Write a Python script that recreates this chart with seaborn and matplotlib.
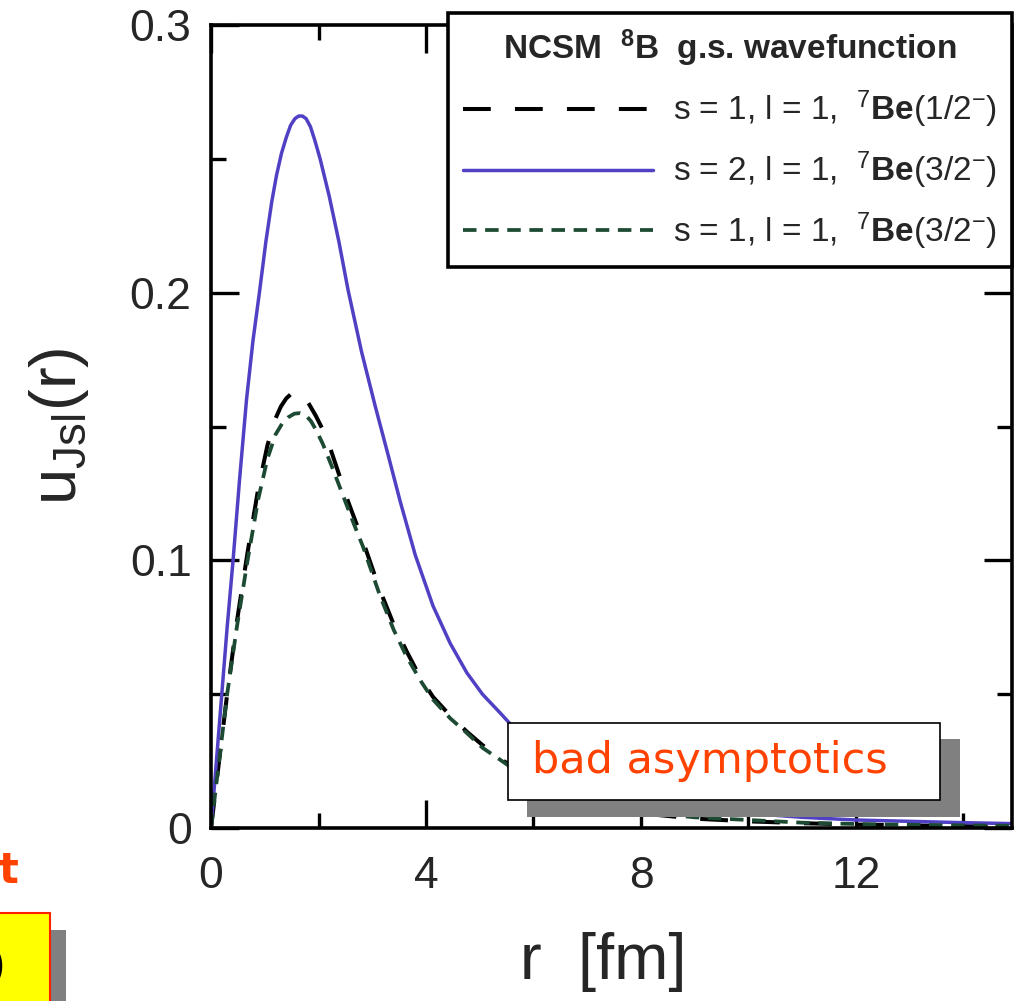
import numpy as np
import pandas as pd
import matplotlib
matplotlib.use("Agg")
import matplotlib.pyplot as plt
import seaborn as sns
from matplotlib.patches import Rectangle
from matplotlib.ticker import MultipleLocator

# Plot settings
sns.set_style("ticks")
plt.rcParams['font.family'] = ['Liberation Sans', 'DejaVu Sans']
plt.rcParams['mathtext.fontset'] = 'custom'
plt.rcParams['mathtext.rm'] = 'Liberation Sans'
plt.rcParams['mathtext.bf'] = 'Liberation Sans:bold'
plt.rcParams['mathtext.it'] = 'Liberation Sans:italic'

# Data: r [fm] and u(r)
r_black = [0, 0.15, 0.3, 0.48, 0.68, 0.88, 1.05, 1.2, 1.3, 1.4, 1.48, 1.55, 1.63,
           1.72, 1.82, 1.95, 2.15, 2.35, 2.55, 2.83, 3.14, 3.4, 3.64, 3.9, 4.13,
           4.45, 4.76, 5.05, 5.38, 5.7, 6.0, 6.5, 7.0, 7.5, 8.0, 9.0, 10.0, 11.0,
           12.0, 13.0, 14.0, 15.0]
u_black = [0, 0.025, 0.05, 0.077, 0.103, 0.127, 0.143, 0.153, 0.1575, 0.1605,
           0.162, 0.163, 0.1628, 0.1615, 0.1585, 0.154, 0.146, 0.134, 0.122, 0.107,
           0.089, 0.076, 0.066, 0.056, 0.049, 0.042, 0.036, 0.031, 0.026, 0.0215,
           0.018, 0.0135, 0.010, 0.0075, 0.0055, 0.0035, 0.0025, 0.0018, 0.0013,
           0.001, 0.0007, 0.0005]

r_blue = [0, 0.1, 0.2, 0.3, 0.41, 0.53, 0.66, 0.78, 0.9, 1.02, 1.13, 1.22, 1.31,
          1.4, 1.48, 1.56, 1.63, 1.7, 1.77, 1.85, 1.93, 2.03, 2.2, 2.38, 2.55, 2.8,
          3.05, 3.3, 3.52, 3.8, 4.13, 4.45, 4.76, 5.05, 5.38, 5.7, 6.0, 6.5, 7.0,
          7.5, 8.0, 9.0, 10.0, 11.0, 12.0, 13.0, 14.0, 15.0]
u_blue = [0, 0.025, 0.05, 0.075, 0.10, 0.13, 0.16, 0.182, 0.20, 0.219, 0.234,
          0.244, 0.252, 0.258, 0.2625, 0.265, 0.266, 0.266, 0.265, 0.262, 0.257,
          0.250, 0.236, 0.219, 0.201, 0.178, 0.158, 0.139, 0.122, 0.102, 0.083,
          0.069, 0.058, 0.050, 0.043, 0.036, 0.031, 0.024, 0.019, 0.015, 0.012,
          0.008, 0.0055, 0.004, 0.003, 0.0025, 0.002, 0.0016]

r_green = [0, 0.15, 0.3, 0.48, 0.68, 0.88, 1.05, 1.2, 1.32, 1.44, 1.55, 1.65, 1.75,
           1.86, 1.96, 2.08, 2.25, 2.46, 2.65, 2.83, 3.14, 3.4, 3.64, 3.9, 4.13,
           4.45, 4.76, 5.05, 5.38, 5.7, 6.0, 6.5, 7.0, 7.5, 8.0, 9.0, 10.0, 11.0,
           12.0, 13.0, 14.0, 15.0]
u_green = [0, 0.025, 0.05, 0.075, 0.10, 0.123, 0.138, 0.147, 0.151, 0.1535, 0.1548,
           0.155, 0.1545, 0.152, 0.1485, 0.1435, 0.135, 0.124, 0.114, 0.105, 0.087,
           0.074, 0.064, 0.055, 0.048, 0.041, 0.0355, 0.030, 0.0255, 0.021, 0.018,
           0.014, 0.010, 0.008, 0.006, 0.004, 0.003, 0.002, 0.0015, 0.0012, 0.001,
           0.0008]

labels = [r's = 1, l = 1,  $^{7}$$\mathbf{Be}$(1/2$^{-}$)',
          r's = 2, l = 1,  $^{7}$$\mathbf{Be}$(3/2$^{-}$)',
          r's = 1, l = 1,  $^{7}$$\mathbf{Be}$(3/2$^{-}$)']
legend_title = r'NCSM  $^{\mathbf{8}}$B  g.s. wavefunction'

x_major = [0, 4, 8, 12]
y_major = [0, 0.1, 0.2, 0.3]
y_ticklabels = ['0', '0.1', '0.2', '0.3']

df_black = pd.DataFrame({'r': r_black, 'u': u_black})
df_blue = pd.DataFrame({'r': r_blue, 'u': u_blue})
df_green = pd.DataFrame({'r': r_green, 'u': u_green})

fig = plt.figure(figsize=(10.18, 10.01), dpi=100)
ax = fig.add_axes([0.2073, 0.1728, 0.7866, 0.8022])

line_kw = dict(estimator=None, sort=False, solid_joinstyle='round',
               dash_joinstyle='round')
sns.lineplot(data=df_black, x='r', y='u', ax=ax, color='black', linewidth=2.9,
             linestyle=(0, (6.9, 6.0)), label=labels[0], **line_kw)
sns.lineplot(data=df_blue, x='r', y='u', ax=ax, color='#5040c4', linewidth=2.5,
             label=labels[1], **line_kw)
sns.lineplot(data=df_green, x='r', y='u', ax=ax, color='#1c4a32', linewidth=2.7,
             linestyle=(0, (3.6, 2.3)), label=labels[2], **line_kw)

ax.set_xlim(0, 14.9)
ax.set_ylim(0, 0.3)
ax.set_xticks(x_major)
ax.set_xticklabels([str(v) for v in x_major])
ax.set_yticks(y_major)
ax.set_yticklabels(y_ticklabels)
ax.xaxis.set_minor_locator(MultipleLocator(2))
ax.yaxis.set_minor_locator(MultipleLocator(0.05))
ax.tick_params(which='both', direction='in', top=True, right=True, width=2.4,
               color='black')
ax.tick_params(which='major', length=20, labelsize=32)
ax.tick_params(which='minor', length=11)
ax.tick_params(axis='x', pad=20)
ax.tick_params(axis='y', pad=14)
for sp in ax.spines.values():
    sp.set_linewidth(2.6)
    sp.set_color('black')

ax.set_xlabel('r  [fm]', fontsize=47)
ax.set_ylabel(r'u$_{\rm Jsl}$(r)', fontsize=47)
ax.xaxis.set_label_coords(0.49, -0.13)
ax.yaxis.set_label_coords(-0.15, 0.5)

handles = ax.get_lines()[:3]
leg = ax.legend(handles, labels, title=legend_title, loc='upper right',
                bbox_to_anchor=(1.0, 1.015), borderaxespad=0, fontsize=24,
                title_fontproperties={'weight': 'bold', 'size': 24},
                handlelength=5.7, handletextpad=0.6, labelspacing=0.58,
                borderpad=0.45, fancybox=False, framealpha=1, edgecolor='black')
leg.get_frame().set_linewidth(2.6)

# "bad asymptotics" callout with drop shadow
ax.add_patch(Rectangle((0.395, 0.0137), 0.54, 0.097, transform=ax.transAxes,
                       facecolor='#808080', edgecolor='none', zorder=6, clip_on=False))
ax.add_patch(Rectangle((0.371, 0.0349), 0.539, 0.0959, transform=ax.transAxes,
                       facecolor='white', edgecolor='black', linewidth=1.2, zorder=7,
                       clip_on=False))
ax.text(0.623, 0.083, 'bad asymptotics', transform=ax.transAxes, ha='center',
        va='center', fontsize=31, color='#ff4200', family='DejaVu Sans', zorder=8)

# pieces of the slide cut off at the lower left
fig.add_artist(Rectangle((0.0491, -0.02), 0.0157, 0.0909, transform=fig.transFigure,
                         facecolor='#808080', edgecolor='none'))
fig.add_artist(Rectangle((-0.05, -0.02), 0.0991, 0.1079, transform=fig.transFigure,
                         facecolor='#ffff00', edgecolor='#ff2000', linewidth=1.5))
fig.text(0.005, 0.035, ')', ha='right', va='center', fontsize=30, color='black')
fig.text(0.018, 0.13, 't', ha='right', va='center', fontsize=30, color='#ff4200',
         weight='bold', family='DejaVu Sans')

fig.savefig('out.png', dpi=100)
